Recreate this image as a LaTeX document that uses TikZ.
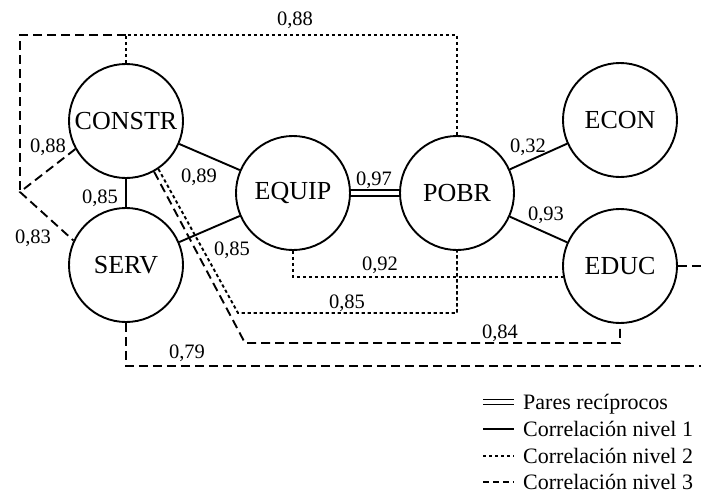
\documentclass[tikz,border=0pt]{standalone}
\usepackage{fontspec}
\setmainfont{Liberation Serif}
\begin{document}
\begin{tikzpicture}[x=1pt,y=-1pt,
  var/.style={circle,draw,line width=1.9pt,minimum size=114pt,inner sep=0pt,font=\fontsize{26}{28}\selectfont},
  lvlone/.style={line width=1.9pt},
  lvltwo/.style={line width=1.9pt,dash pattern=on 3.3pt off 2.7pt},
  lvlthree/.style={line width=1.9pt,dash pattern=on 9pt off 5pt},
  recip/.style={double,double distance=3.6pt,line width=1.8pt},
  lab/.style={font=\fontsize{20.5}{22}\selectfont,inner sep=0pt,anchor=base},
  legtext/.style={font=\fontsize{22}{24}\selectfont,anchor=base west,inner sep=0pt}]
\useasboundingbox (0,0) rectangle (701,501);

% variables
\node[var] (constr) at (126,121) {CONSTR};
\node[var] (serv) at (126,265) {SERV};
\node[var] (equip) at (293,193) {EQUIP};
\node[var] (pobr) at (457,193) {POBR};
\node[var] (econ) at (620,120) {ECON};
\node[var] (educ) at (620,266) {EDUC};

% helper coordinates
\coordinate (tl) at (20,35);
\coordinate (lm) at (20,192);
\coordinate (tc) at (126,35);
\coordinate (tr) at (457,35);
\coordinate (b85) at (238,313);
\coordinate (b84) at (245,343);
\coordinate (b79) at (126,366);
\coordinate (r79) at (701,366);
\coordinate (reduc) at (701,266);

% level 1 and reciprocal
\draw[lvlone] (constr) -- (serv);
\draw[lvlone] (constr) -- (equip);
\draw[lvlone] (serv) -- (equip);
\draw[recip] (equip) -- (pobr);
\draw[lvlone] (pobr) -- (econ);
\draw[lvlone] (pobr) -- (educ);

% level 2
\draw[lvltwo] (constr.north) -- (tc) -- (tr) -- (pobr.north);
\draw[lvltwo] (equip.south) |- (educ.191);
\draw[lvltwo] (constr.304) -- (b85) -| (pobr.south);

% level 3
\draw[lvlthree] (tc) -- (tl) -- (lm);
\draw[lvlthree] (constr.209) -- (lm) -- (serv.155);
\draw[lvlthree] (constr.299) -- (b84) -| (educ.south);
\draw[lvlthree] (serv.south) -- (b79) -- (r79);
\draw[lvlthree] (educ.east) -- (reduc);

% labels
\node[lab] (la) at (295,25) {0,88};
\node[lab] (lb) at (48,152) {0,88};
\node[lab] (lc) at (100,203) {0,85};
\node[lab] (ld) at (199,182) {0,89};
\node[lab] (le) at (33,243) {0,83};
\node[lab] (lf) at (232,255) {0,85};
\node[lab] (lg) at (374,185) {0,97};
\node[lab] (lh) at (528,152) {0,32};
\node[lab] (li) at (546,220) {0,93};
\node[lab] (lj) at (380,270) {0,92};
\node[lab] (lk) at (347,308) {0,85};
\node[lab] (ll) at (500,338) {0,84};
\node[lab] (lm2) at (187,358) {0,79};

% legend
\coordinate (ga1) at (483,402); \coordinate (ga2) at (514,402);
\coordinate (gb1) at (483,429); \coordinate (gb2) at (514,429);
\coordinate (gc1) at (483,456); \coordinate (gc2) at (514,456);
\coordinate (gd1) at (483,482); \coordinate (gd2) at (514,482);
\draw[recip,double distance=3.2pt] (ga1) -- (ga2);
\draw[lvlone] (gb1) -- (gb2);
\draw[lvltwo] (gc1) -- (gc2);
\draw[lvlthree,dash pattern=on 6pt off 4pt] (gd1) -- (gd2);
\node[legtext] (ta) at (523,409) {Pares recíprocos};
\node[legtext] (tb) at (523,436) {Correlación nivel 1};
\node[legtext] (tc2) at (523,463) {Correlación nivel 2};
\node[legtext] (td) at (523,489) {Correlación nivel 3};
\end{tikzpicture}
\end{document}
